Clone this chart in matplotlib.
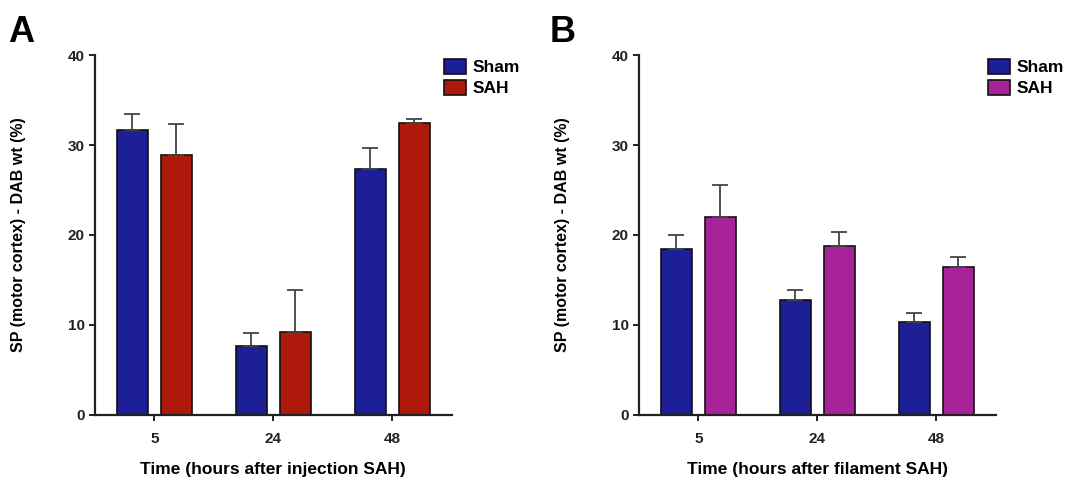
import numpy as np
import matplotlib.pyplot as plt

plt.rcParams['font.family'] = ['Liberation Sans', 'DejaVu Sans']
plt.rcParams['font.weight'] = 'bold'

times = ['5', '24', '48']

# panel A: injection model
a_sham = [31.7, 7.7, 27.3]
a_sham_err = [1.8, 1.35, 2.4]
a_sah = [28.9, 9.2, 32.4]
a_sah_err = [3.4, 4.7, 0.5]

# panel B: filament model
b_sham = [18.4, 12.8, 10.3]
b_sham_err = [1.6, 1.1, 1.0]
b_sah = [22.0, 18.8, 16.4]
b_sah_err = [3.6, 1.5, 1.1]

blue = '#1c1f96'
red = '#ad1a0c'
magenta = '#a8239a'

fig = plt.figure(figsize=(10.73, 4.87), dpi=100)
axA = fig.add_axes([0.0885, 0.148, 0.3325, 0.739])
axB = fig.add_axes([0.5955, 0.148, 0.3325, 0.739])


def panel(ax, sham, sham_err, sah, sah_err, sah_color, xlabel, letter, lx):
    x = np.arange(len(times))
    w = 0.26
    ax.bar(x - 0.185, sham, w, color=blue, edgecolor='#111111', linewidth=1.2,
           yerr=[np.zeros(3), sham_err], capsize=6,
           error_kw=dict(ecolor='#444444', elinewidth=1.3, capthick=1.3), label='Sham')
    ax.bar(x + 0.185, sah, w, color=sah_color, edgecolor='#111111', linewidth=1.2,
           yerr=[np.zeros(3), sah_err], capsize=6,
           error_kw=dict(ecolor='#444444', elinewidth=1.3, capthick=1.3), label='SAH')
    ax.set_xlim(-0.5, 2.5)
    ax.set_ylim(0, 40)
    ax.set_yticks([0, 10, 20, 30, 40])
    ax.set_xticks(x)
    ax.set_xticklabels(times)
    for s in ['top', 'right']:
        ax.spines[s].set_visible(False)
    for s in ['left', 'bottom']:
        ax.spines[s].set_linewidth(1.6)
        ax.spines[s].set_color('#222222')
    ax.tick_params(axis='both', labelsize=11, width=1.4, length=4, colors='#222222')
    ax.tick_params(axis='x', pad=8)
    ax.set_ylabel('SP (motor cortex) - DAB wt (%)', fontsize=11.5, fontweight='bold', labelpad=30)
    ax.set_xlabel(xlabel, fontsize=12.5, fontweight='bold', labelpad=12)
    ax.legend(loc='upper left', bbox_to_anchor=(0.968, 1.0), frameon=False,
              fontsize=12.5, handlelength=1.3, handleheight=1.0, labelspacing=0.25,
              handletextpad=0.35, borderaxespad=0, borderpad=0.2)
    fig.text(lx, 0.97, letter, fontsize=26, fontweight='bold', va='top', ha='left')


panel(axA, a_sham, a_sham_err, a_sah, a_sah_err, red,
      'Time (hours after injection SAH)', 'A', 0.008)
panel(axB, b_sham, b_sham_err, b_sah, b_sah_err, magenta,
      'Time (hours after filament SAH)', 'B', 0.512)

fig.savefig('out.png', dpi=100)
